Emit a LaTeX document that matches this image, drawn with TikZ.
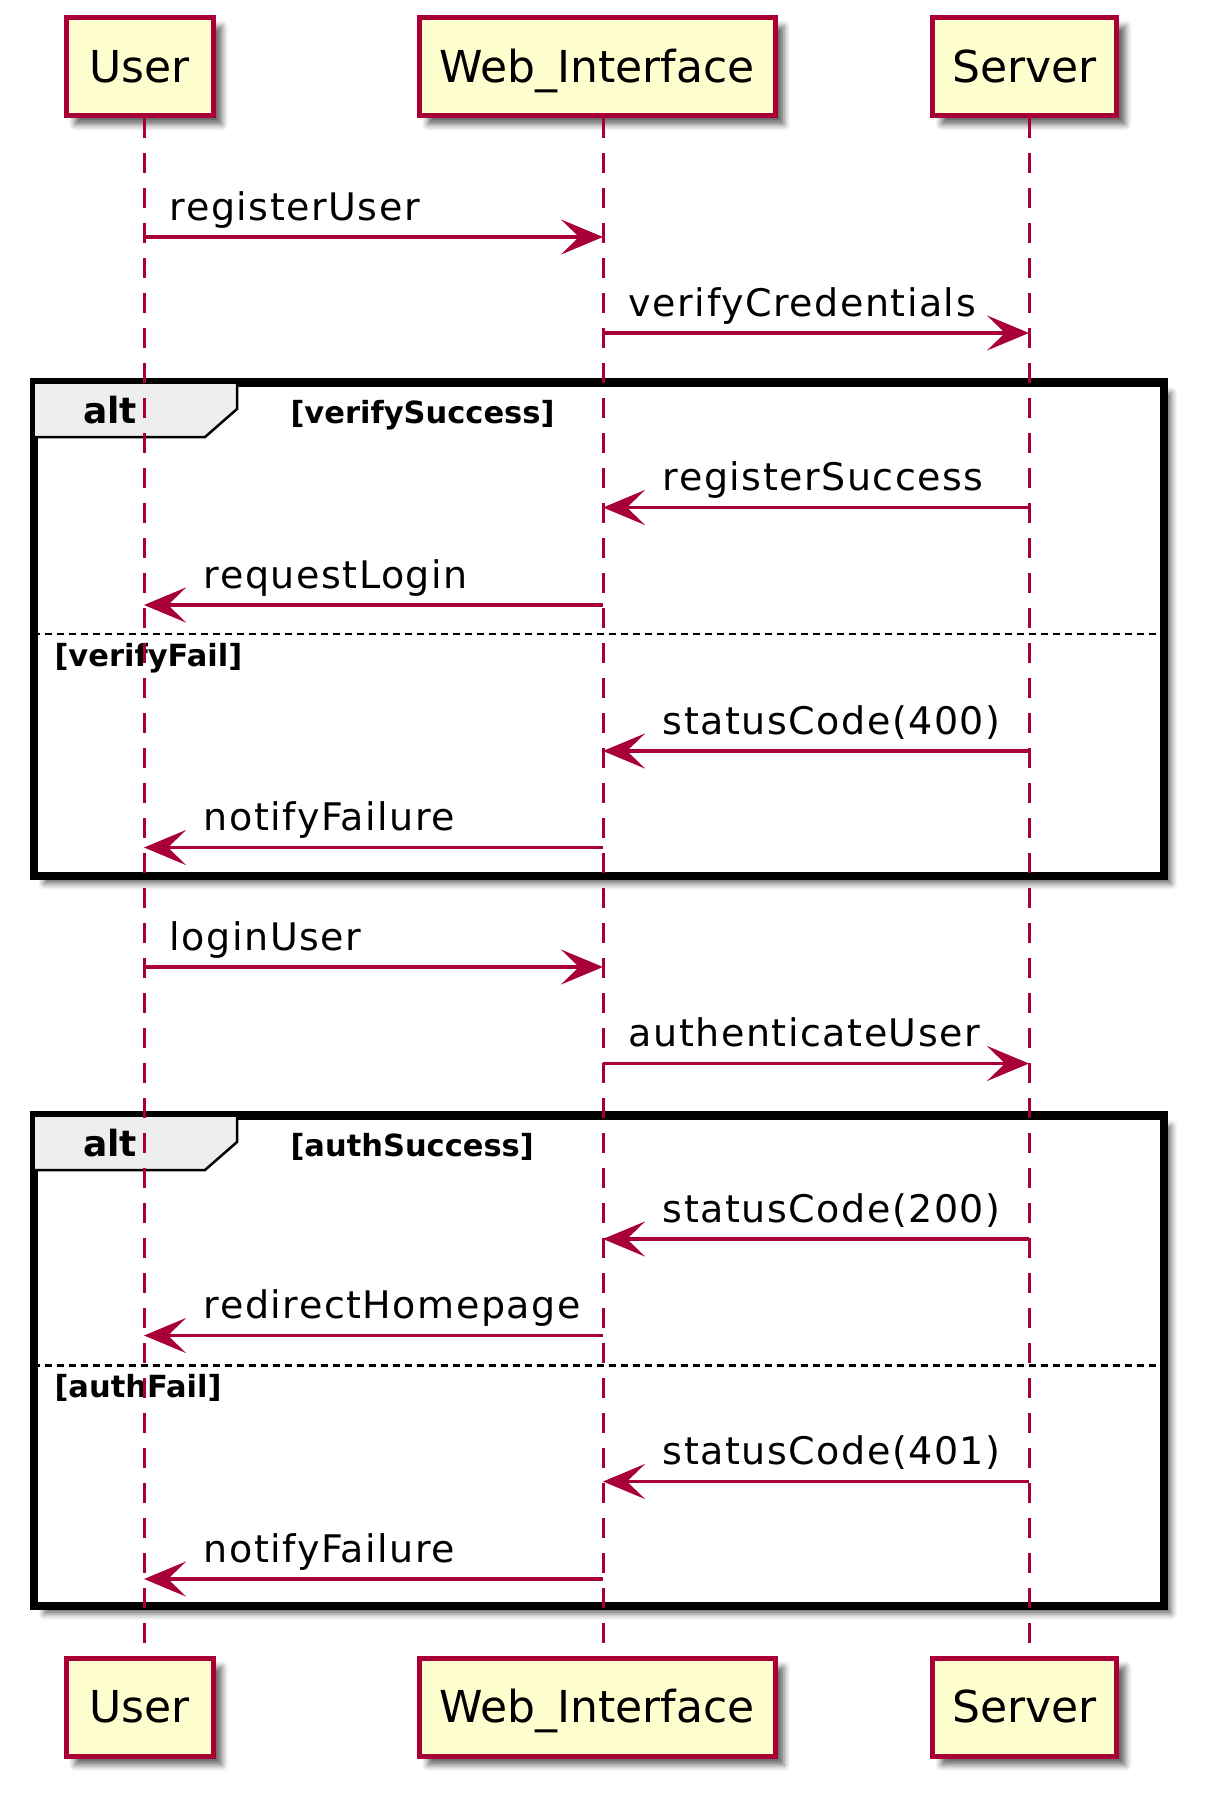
\documentclass[tikz,border=0pt]{standalone}
\usepackage{fontspec}
\setmainfont{DejaVu Sans}
\newfontfamily\msgfont{DejaVu Sans}[LetterSpace=4]
\usepackage{tikz}
\usetikzlibrary{positioning, arrows.meta, shadows.blur}
\definecolor{umlred}{HTML}{A80036}
\definecolor{umlbox}{HTML}{FEFECE}
\definecolor{umltab}{HTML}{EEEEEE}

\begin{document}
\begin{tikzpicture}[x=1pt, y=-1pt,
    actor/.style={rectangle, draw=umlred, fill=umlbox, line width=5pt,
      minimum height=98pt, text height=31pt, text depth=0pt,
      font=\fontsize{44}{50}\selectfont,
      blur shadow={shadow xshift=9pt, shadow yshift=-9pt, shadow blur radius=6pt,
        shadow opacity=60}},
    life/.style={draw=umlred, line width=3pt, dash pattern=on 20pt off 15pt},
    msg/.style={draw=umlred, line width=3.2pt,
      -{Stealth[length=42pt, width=35pt, inset=18pt]}},
    lblr/.style={pos=0, anchor=base west, xshift=21pt, yshift=17pt,
      font=\msgfont\fontsize{38}{44}\selectfont},
    lbll/.style={pos=1, anchor=base west, xshift=55pt, yshift=17pt,
      font=\msgfont\fontsize{38}{44}\selectfont},
    altbox/.style={rectangle, draw=black, fill=white, line width=5.5pt,
      anchor=north west, minimum width=1127pt,
      blur shadow={shadow xshift=9pt, shadow yshift=-9pt, shadow blur radius=6pt,
        shadow opacity=60}},
    tab/.style={draw=black, fill=umltab, line width=2.5pt},
    altword/.style={anchor=base, font=\bfseries\fontsize{36}{40}\selectfont},
    guard/.style={anchor=base west, font=\bfseries\fontsize{30.5}{34}\selectfont},
    sep/.style={draw=black, line width=2.5pt, dash pattern=on 7pt off 5pt}]

  \useasboundingbox (0,0) rectangle (1207,1800);

  % lifeline positions
  \coordinate (uL) at (144,0);
  \coordinate (wL) at (603,0);
  \coordinate (sL) at (1029,0);

  % first alt frame
  \node[altbox, minimum height=491pt] (altA) at (32.5,381) {};
  \draw[tab] (altA.north west) -- ++(204.5,0) -- ++(0,28) -- ++(-32,28)
    -- ++(-172.5,0) -- cycle;
  \draw[line width=5.5pt] (altA.north west) rectangle (altA.south east);
  \draw[sep] (altA.west |- 0,634) -- (altA.east |- 0,634);
  \node[altword] (altAw) at (110,423) {alt};
  \node[guard] (altAg1) at (287,423) {[verifySuccess]};
  \node[guard] (altAg2) at (51,666) {[verifyFail]};

  % second alt frame
  \node[altbox, minimum height=488pt] (altB) at (32.5,1114) {};
  \draw[tab] (altB.north west) -- ++(204.5,0) -- ++(0,28) -- ++(-32,28)
    -- ++(-172.5,0) -- cycle;
  \draw[line width=5.5pt] (altB.north west) rectangle (altB.south east);
  \draw[sep] (altB.west |- 0,1365.5) -- (altB.east |- 0,1365.5);
  \node[altword] (altBw) at (110,1156) {alt};
  \node[guard] (altBg1) at (287,1156) {[authSuccess]};
  \node[guard] (altBg2) at (51,1397.5) {[authFail]};

  % participants
  \node[actor, minimum width=147pt] (uTop) at (139.5,66.5) {User};
  \node[actor, minimum width=356pt] (wTop) at (597,66.5) {Web\_Interface};
  \node[actor, minimum width=184pt] (sTop) at (1024.5,66.5) {Server};
  \node[actor, minimum width=147pt] (uBot) at (139.5,1707) {User};
  \node[actor, minimum width=356pt] (wBot) at (597,1707) {Web\_Interface};
  \node[actor, minimum width=184pt] (sBot) at (1024.5,1707) {Server};

  \draw[life] (uL |- uTop.south) -- (uL |- uBot.north);
  \draw[life] (wL |- wTop.south) -- (wL |- wBot.north);
  \draw[life] (sL |- sTop.south) -- (sL |- sBot.north);

  % messages
  \draw[msg] (uL |- 0,237) -- node[lblr] {registerUser} (wL |- 0,237);
  \draw[msg] (wL |- 0,333) -- node[lblr] {verifyCredentials} (sL |- 0,333);
  \draw[msg] (sL |- 0,507.5) -- node[lbll] {registerSuccess} (wL |- 0,507.5);
  \draw[msg] (wL |- 0,605) -- node[lbll] {requestLogin} (uL |- 0,605);
  \draw[msg] (sL |- 0,751) -- node[lbll] {statusCode(400)} (wL |- 0,751);
  \draw[msg] (wL |- 0,847.5) -- node[lbll] {notifyFailure} (uL |- 0,847.5);
  \draw[msg] (uL |- 0,967) -- node[lblr] {loginUser} (wL |- 0,967);
  \draw[msg] (wL |- 0,1063.5) -- node[lblr] {authenticateUser} (sL |- 0,1063.5);
  \draw[msg] (sL |- 0,1239) -- node[lbll] {statusCode(200)} (wL |- 0,1239);
  \draw[msg] (wL |- 0,1335.5) -- node[lbll] {redirectHomepage} (uL |- 0,1335.5);
  \draw[msg] (sL |- 0,1481.5) -- node[lbll] {statusCode(401)} (wL |- 0,1481.5);
  \draw[msg] (wL |- 0,1579) -- node[lbll] {notifyFailure} (uL |- 0,1579);
\end{tikzpicture}
\end{document}
